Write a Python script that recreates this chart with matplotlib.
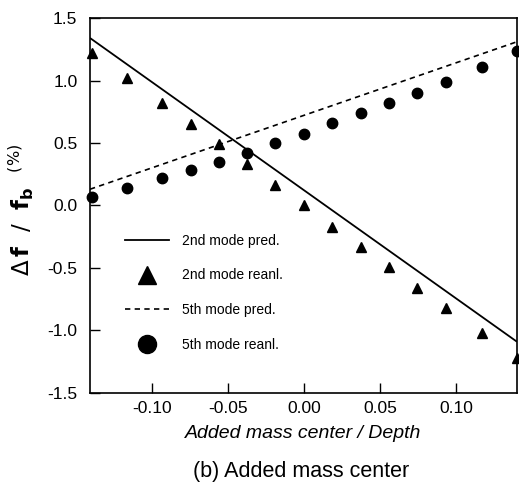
import matplotlib
matplotlib.use("Agg")
import matplotlib.pyplot as plt
from matplotlib import font_manager
from matplotlib.lines import Line2D

# condensed face for the numbers and legend if it exists
names = {f.name for f in font_manager.fontManager.ttflist}
narrow = "Liberation Sans Narrow" if "Liberation Sans Narrow" in names else "Liberation Sans"

# added mass center / depth positions of the reanalysis points
x_pts = [-0.140, -0.1165, -0.0935, -0.0745, -0.056, -0.0375, -0.019, 0.0,
         0.018, 0.0375, 0.056, 0.0745, 0.0935, 0.117, 0.140]
mode2_reanl = [1.22, 1.02, 0.82, 0.65, 0.49, 0.33, 0.16, 0.00,
               -0.17, -0.33, -0.49, -0.66, -0.82, -1.02, -1.22]
mode5_reanl = [0.07, 0.14, 0.22, 0.28, 0.35, 0.42, 0.50, 0.57,
               0.66, 0.74, 0.82, 0.90, 0.99, 1.11, 1.24]

# predicted (linear) curves, end points
x_line = [-0.141, 0.140]
mode2_pred = [1.34, -1.09]
mode5_pred = [0.13, 1.31]

fig = plt.figure(figsize=(5.19, 4.88), dpi=100)
ax = fig.add_axes([0.1734, 0.1947, 0.8227, 0.7684])

ax.plot(x_line, mode2_pred, color="black", lw=1.3, solid_capstyle="butt")
ax.plot(x_line, mode5_pred, color="black", lw=1.2, dashes=(3.2, 2.6))
ax.plot(x_pts, mode2_reanl, ls="none", marker="^", ms=6.5, color="black", clip_on=False)
ax.plot(x_pts, mode5_reanl, ls="none", marker="o", ms=7.5, color="black", clip_on=False)

ax.set_xlim(-0.141, 0.140)
ax.set_ylim(-1.5, 1.5)
ax.set_xticks([-0.10, -0.05, 0.00, 0.05, 0.10])
ax.set_yticks([-1.5, -1.0, -0.5, 0.0, 0.5, 1.0, 1.5])
ax.set_xticklabels(["-0.10", "-0.05", "0.00", "0.05", "0.10"])
ax.set_yticklabels(["-1.5", "-1.0", "-0.5", "0.0", "0.5", "1.0", "1.5"])
ax.tick_params(direction="in", length=7, width=1.0, labelsize=12.5)
ax.tick_params(axis="x", pad=6)
ax.tick_params(axis="y", pad=9)
for lab in ax.get_xticklabels() + ax.get_yticklabels():
    lab.set_family(narrow)
for sp in ax.spines.values():
    sp.set_linewidth(1.2)

ax.set_xlabel("Added mass center / Depth", fontsize=14, style="italic",
              family="Liberation Sans", labelpad=6)
fig.text(0.58, 0.013, "(b) Added mass center", fontsize=15.5,
         family="Liberation Sans", ha="center", va="bottom")
fig.text(0.04, 0.57, r"$\Delta\,\mathbf{f}\ \ /\ \ \mathbf{f}_{\mathbf{b}}$" + r"  $^{(\%)}$",
         rotation=90, fontsize=16.5, ha="center", va="center")

handles = [
    Line2D([], [], color="black", lw=1.3),
    Line2D([], [], ls="none", marker="^", ms=13, color="black"),
    Line2D([], [], color="black", lw=1.2, dashes=(3.2, 2.6)),
    Line2D([], [], ls="none", marker="o", ms=13, color="black"),
]
labels = ["2nd mode pred.", "2nd mode reanl.", "5th mode pred.", "5th mode reanl."]
ax.legend(handles, labels, loc="upper left", bbox_to_anchor=(0.082, 0.425),
          frameon=False, borderpad=0, borderaxespad=0, handlelength=3.2,
          handletextpad=0.9, labelspacing=1.5, prop={"family": narrow, "size": 10})

fig.savefig("out.png", dpi=100)
